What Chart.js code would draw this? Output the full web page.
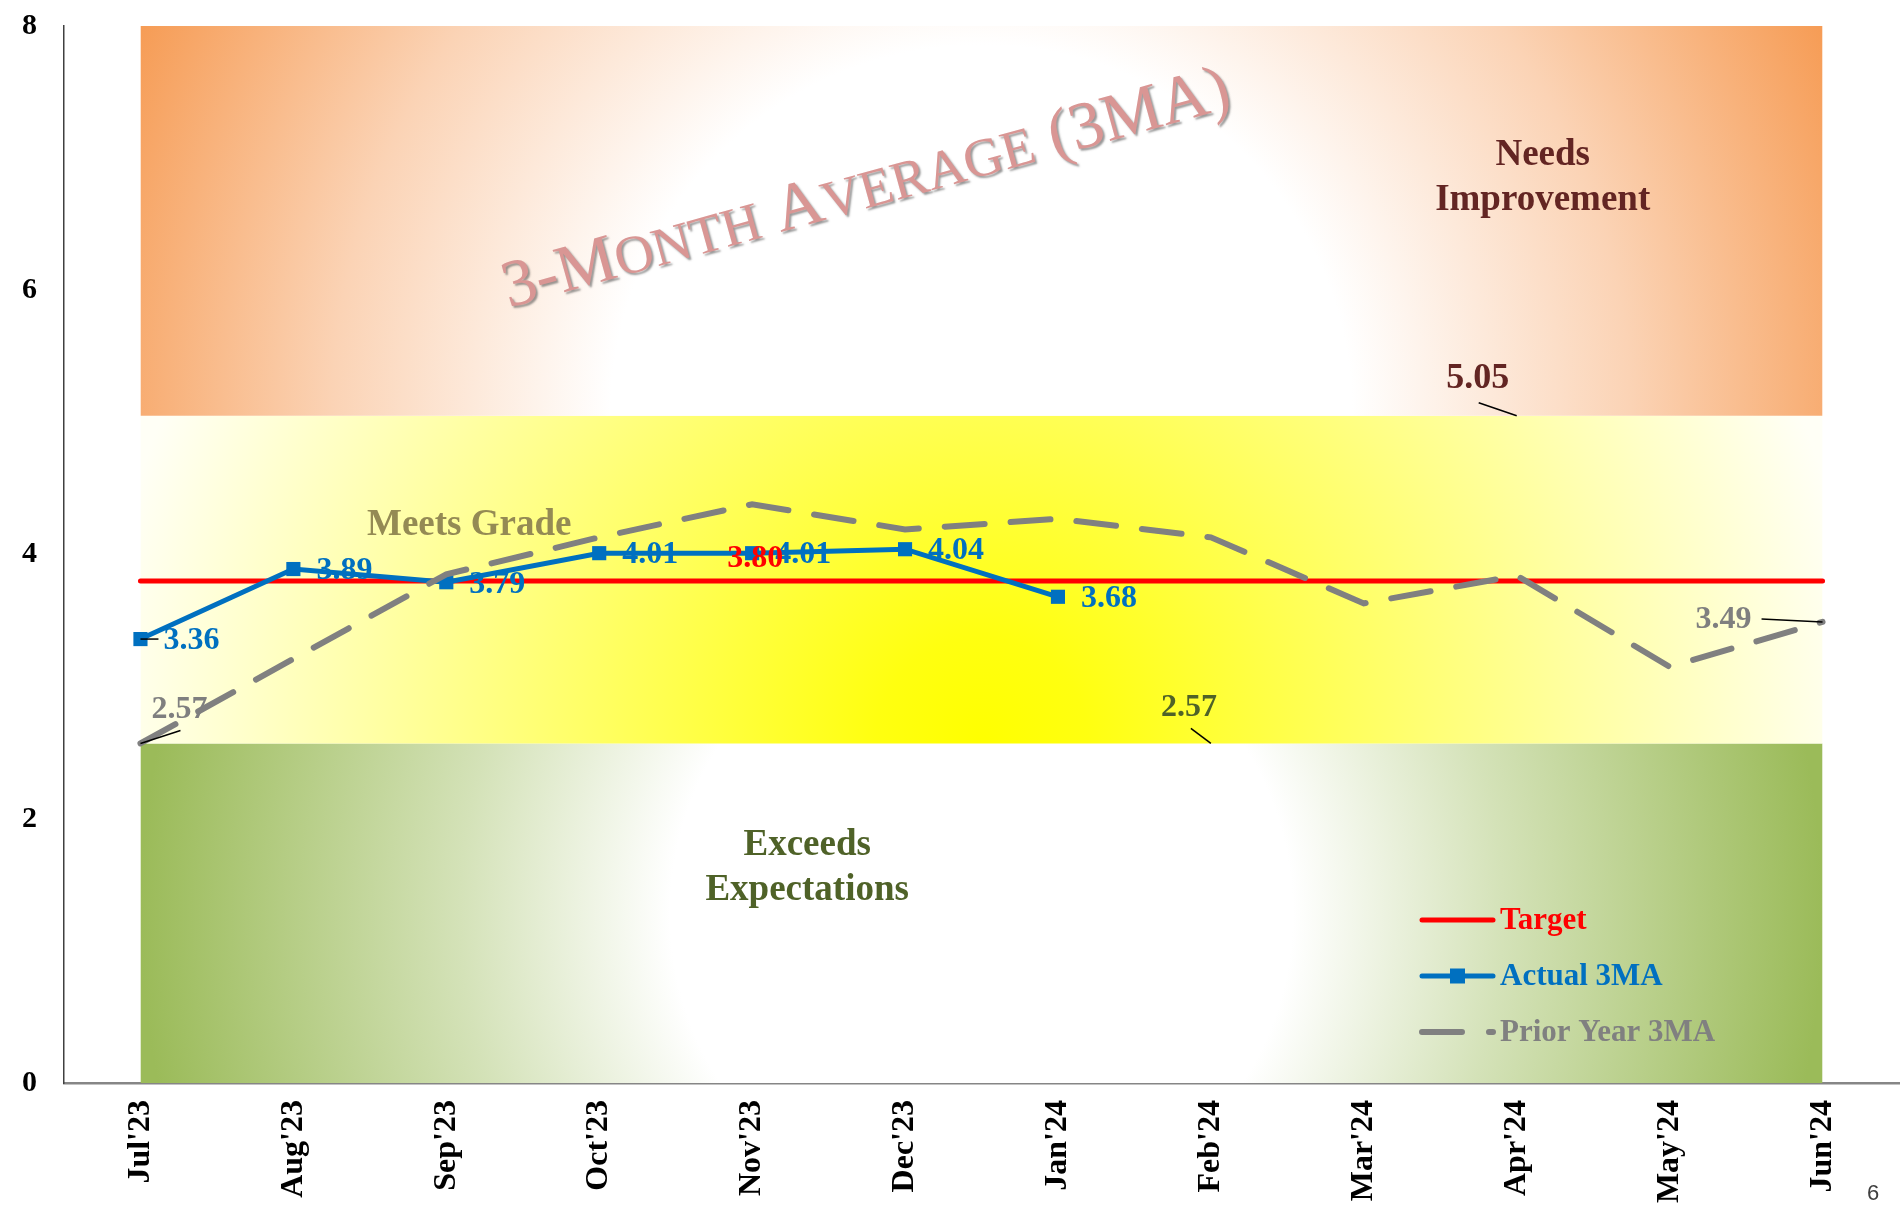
<!DOCTYPE html>
<html><head><meta charset="utf-8">
<script src="https://cdn.jsdelivr.net/npm/chart.js@4.4.1/dist/chart.umd.min.js"></script>
<style>
html,body{margin:0;padding:0;background:#fff;}
#wrap{position:relative;width:1901px;height:1211px;overflow:hidden;}
#pg{position:absolute;left:1867px;top:1180px;font:22px 'Liberation Sans',Arial,sans-serif;color:#404040;}
</style></head><body>
<div id="wrap"><canvas id="c" width="1901" height="1211"></canvas><div id="pg">6</div></div>
<script>
const months = ["Jul'23","Aug'23","Sep'23","Oct'23","Nov'23","Dec'23","Jan'24","Feb'24","Mar'24","Apr'24","May'24","Jun'24"];
const target = [3.80,3.80,3.80,3.80,3.80,3.80,3.80,3.80,3.80,3.80,3.80,3.80];
const actual3MA = [3.36,3.89,3.79,4.01,4.01,4.04,3.68,null,null,null,null,null];
const priorYear3MA = [2.57,3.21,3.85,4.13,4.38,4.19,4.27,4.13,3.63,3.84,3.15,3.49];
const bandExceeds = [2.57,2.57,2.57,2.57,2.57,2.57,2.57,2.57,2.57,2.57,2.57,2.57];
const bandMeets = [5.05,5.05,5.05,5.05,5.05,5.05,5.05,5.05,5.05,5.05,5.05,5.05];
const bandNeeds = [8,8,8,8,8,8,8,8,8,8,8,8];
const yTicks = [0,2,4,6,8];
const titleRuns = [['3-M', 1], ['ONTH', 0.8], [' A', 1], ['VERAGE', 0.8], [' (3MA)', 1]];

const SERIF = "'Liberation Serif','Times New Roman',serif";

function bandFill(kind) {
  return function(context) {
    const chart = context.chart;
    if (!chart.chartArea || !chart.scales.x) return 'rgba(0,0,0,0)';
    const xs = chart.scales.x, ys = chart.scales.y, c = chart.ctx;
    const xl = xs.getPixelForValue(0), xr = xs.getPixelForValue(months.length - 1);
    const cx = (xl + xr) / 2, hw = (xr - xl) / 2;
    let g;
    if (kind === 'needs') {
      const yb = ys.getPixelForValue(bandMeets[0]), yt = ys.getPixelForValue(bandNeeds[0]);
      const r = Math.hypot(hw, yb - yt);
      g = c.createRadialGradient(cx, yb, 0, cx, yb, r);
      g.addColorStop(0, '#FFFFFF'); g.addColorStop(0.4, '#FFFFFF');
      g.addColorStop(0.7, '#FBD3B5'); g.addColorStop(1, '#F69C55');
    } else if (kind === 'meets') {
      const yb = ys.getPixelForValue(bandExceeds[0]);
      const r = hw * 1.05;
      g = c.createRadialGradient(cx, yb, 0, cx, yb, r);
      g.addColorStop(0, '#FFFF00'); g.addColorStop(0.12, '#FFFF10'); g.addColorStop(1, '#FFFFF6');
    } else {
      const yc = (ys.getPixelForValue(0) + ys.getPixelForValue(bandExceeds[0])) / 2;
      const r = hw;
      g = c.createRadialGradient(cx, yc, 0, cx, yc, r);
      g.addColorStop(0, '#FFFFFF'); g.addColorStop(0.37, '#FFFFFF');
      g.addColorStop(0.62, '#D4E2B8'); g.addColorStop(1, '#9BBB59');
    }
    return g;
  };
}

function drawText(ctx, str, x, y, color, size, align, weight) {
  ctx.save();
  ctx.font = (weight || 'bold') + ' ' + size + 'px ' + SERIF;
  ctx.fillStyle = color;
  ctx.textAlign = align || 'center';
  ctx.textBaseline = 'middle';
  ctx.fillText(str, x, y);
  ctx.restore();
}
function drawLeader(ctx, x1, y1, x2, y2) {
  ctx.save();
  ctx.strokeStyle = '#000000';
  ctx.lineWidth = 1.5;
  ctx.beginPath(); ctx.moveTo(x1, y1); ctx.lineTo(x2, y2); ctx.stroke();
  ctx.restore();
}

const decorPlugin = {
  id: 'decor',
  afterDatasetDraw(chart, args) {
    if (chart.data.datasets[args.index].label !== 'bandNeeds') return;
    const ctx = chart.ctx, xs = chart.scales.x, ys = chart.scales.y;
    const big = 67;
    ctx.save();
    ctx.translate(xs.getPixelForValue(4.74), ys.getPixelForValue(6.79));
    ctx.rotate(-15.5 * Math.PI / 180);
    ctx.textAlign = 'left';
    ctx.textBaseline = 'alphabetic';
    let total = 0;
    titleRuns.forEach(r => { ctx.font = '400 ' + Math.round(big * r[1]) + 'px ' + SERIF; total += ctx.measureText(r[0]).width; });
    let x = -total / 2;
    const base = big * 0.33;
    ctx.shadowColor = 'rgba(70,70,70,0.55)';
    ctx.shadowOffsetX = 2; ctx.shadowOffsetY = 2; ctx.shadowBlur = 2;
    ctx.fillStyle = '#D99694';
    titleRuns.forEach(r => {
      ctx.font = '400 ' + Math.round(big * r[1]) + 'px ' + SERIF;
      ctx.fillText(r[0], x, base);
      x += ctx.measureText(r[0]).width;
    });
    ctx.restore();
    drawText(ctx, 'Needs', xs.getPixelForValue(9.17), ys.getPixelForValue(7.02), '#632523', 37);
    drawText(ctx, 'Improvement', xs.getPixelForValue(9.17), ys.getPixelForValue(6.68), '#632523', 37);
    drawText(ctx, 'Meets Grade', xs.getPixelForValue(2.15), ys.getPixelForValue(4.22), '#948A54', 37);
    drawText(ctx, 'Exceeds', xs.getPixelForValue(4.36), ys.getPixelForValue(1.80), '#4F6228', 37);
    drawText(ctx, 'Expectations', xs.getPixelForValue(4.36), ys.getPixelForValue(1.46), '#4F6228', 37);
  },
  afterDatasetsDraw(chart) {
    const ctx = chart.ctx;
    const meta = name => chart.getDatasetMeta(chart.data.datasets.findIndex(d => d.label === name));
    const pt = (name, i) => meta(name).data[i];
    let p = pt('Prior Year 3MA', 0);
    drawLeader(ctx, p.x, p.y, p.x + 40, p.y - 13);
    drawText(ctx, priorYear3MA[0].toFixed(2), p.x + 39, p.y - 34, '#7F7F7F', 32);
    p = pt('Prior Year 3MA', 11);
    drawLeader(ctx, p.x - 61, p.y - 3, p.x, p.y);
    drawText(ctx, priorYear3MA[11].toFixed(2), p.x - 99, p.y - 2, '#7F7F7F', 32);
    p = pt('bandMeets', 9);
    drawLeader(ctx, p.x - 38, p.y - 13, p.x, p.y);
    drawText(ctx, bandMeets[9].toFixed(2), p.x - 39, p.y - 37, '#632523', 36);
    p = pt('bandExceeds', 7);
    drawLeader(ctx, p.x - 20, p.y - 15, p.x, p.y);
    drawText(ctx, bandExceeds[7].toFixed(2), p.x - 22, p.y - 36, '#4F6228', 32);
    p = pt('Actual 3MA', 0);
    drawLeader(ctx, p.x, p.y, p.x + 18, p.y);
    actual3MA.forEach((v, i) => {
      if (v == null) return;
      const q = pt('Actual 3MA', i);
      drawText(ctx, v.toFixed(2), q.x + 23, q.y + 2, '#0070C0', 32, 'left');
    });
    p = pt('Target', 4);
    drawText(ctx, target[4].toFixed(2), p.x + 3, p.y - 22, '#FF0000', 32);
  },
  afterDraw(chart) {
    const ctx = chart.ctx, a = chart.chartArea;
    const x0 = a.right - 477, x1 = a.right - 406, tx = a.right - 399;
    const rows = [
      {label: 'Target', color: '#FF0000', y: a.bottom - 163},
      {label: 'Actual 3MA', color: '#0070C0', y: a.bottom - 107, marker: true},
      {label: 'Prior Year 3MA', color: '#808080', y: a.bottom - 51, dash: true}
    ];
    rows.forEach(r => {
      ctx.save();
      ctx.strokeStyle = r.color;
      ctx.lineCap = 'round';
      ctx.lineWidth = r.dash ? 6 : 5;
      if (r.dash) ctx.setLineDash([40, 27]);
      ctx.beginPath(); ctx.moveTo(x0, r.y); ctx.lineTo(x1, r.y); ctx.stroke();
      ctx.restore();
      if (r.marker) {
        ctx.save(); ctx.fillStyle = r.color;
        ctx.fillRect((x0 + x1) / 2 - 7.5, r.y - 7.5, 15, 15);
        ctx.restore();
      }
      drawText(ctx, r.label, tx, r.y + 1, r.color, 31, 'left');
    });
  }
};

new Chart(document.getElementById('c'), {
  type: 'line',
  data: {
    labels: months,
    datasets: [
      {label: 'bandExceeds', data: bandExceeds, fill: 'origin', backgroundColor: bandFill('exceeds'),
       borderWidth: 0, borderColor: 'rgba(0,0,0,0)', pointRadius: 0, order: 12},
      {label: 'bandMeets', data: bandMeets, fill: '-1', backgroundColor: bandFill('meets'),
       borderWidth: 0, borderColor: 'rgba(0,0,0,0)', pointRadius: 0, order: 11},
      {label: 'bandNeeds', data: bandNeeds, fill: '-1', backgroundColor: bandFill('needs'),
       borderWidth: 0, borderColor: 'rgba(0,0,0,0)', pointRadius: 0, order: 10},
      {label: 'Target', data: target, borderColor: '#FF0000', borderWidth: 5, borderCapStyle: 'round',
       pointRadius: 0, fill: false, order: 3},
      {label: 'Actual 3MA', data: actual3MA, borderColor: '#0070C0', backgroundColor: '#0070C0', borderWidth: 5,
       pointStyle: 'rect', pointRadius: 10, pointBorderWidth: 0, pointBackgroundColor: '#0070C0',
       fill: false, spanGaps: false, order: 2},
      {label: 'Prior Year 3MA', data: priorYear3MA, borderColor: '#808080', borderWidth: 6,
       borderDash: [40, 26], borderCapStyle: 'round', pointRadius: 0, fill: false, order: 1}
    ]
  },
  options: {
    responsive: false,
    animation: false,
    events: [],
    layout: {autoPadding: false, padding: {top: 26, right: 2, left: 0, bottom: 0}},
    plugins: {legend: {display: false}, tooltip: {enabled: false}, title: {display: false}},
    elements: {line: {tension: 0}},
    scales: {
      x: {
        type: 'category', offset: true,
        grid: {display: false, drawTicks: false},
        border: {display: true, color: '#868686', width: 2.5},
        ticks: {minRotation: 90, maxRotation: 90, autoSkip: false, padding: 17, color: '#000000',
                font: {family: SERIF, size: 32, weight: 'bold'}},
        afterFit: s => { s.height = 128; s.paddingLeft = 0; s.paddingRight = 0; }
      },
      y: {
        min: 0, max: 8,
        grid: {display: false, drawTicks: false},
        border: {display: true, color: '#404040', width: 1.5},
        afterBuildTicks: s => { s.ticks = yTicks.map(v => ({value: v})); },
        ticks: {padding: 27, color: '#000000', font: {family: SERIF, size: 30, weight: 'bold'}},
        afterFit: s => { s.width = 64; s.paddingTop = 0; s.paddingBottom = 0; }
      }
    }
  },
  plugins: [decorPlugin]
});
</script>
</body></html>
